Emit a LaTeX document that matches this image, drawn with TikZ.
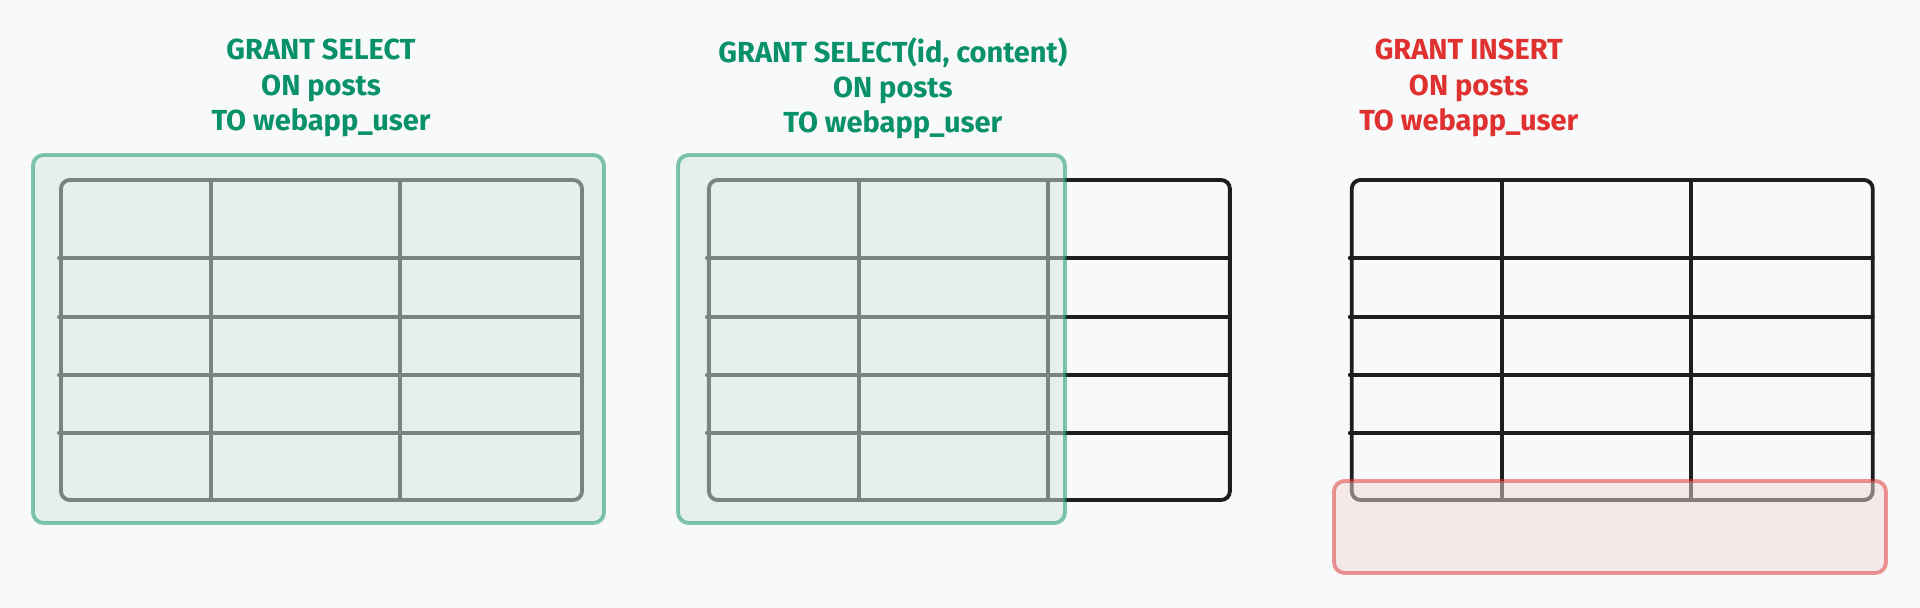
\documentclass[tikz,border=0pt]{standalone}
\usepackage{fontspec}
\setmainfont{Fira Sans}
\definecolor{grantgreen}{HTML}{099268}
\definecolor{denyred}{HTML}{E03131}
\definecolor{inkblack}{HTML}{1E1E1E}
\definecolor{paper}{HTML}{F8F9FA}
\definecolor{greenfill}{RGB}{212,233,226}
\definecolor{redfill}{RGB}{242,217,216}

\tikzstyle{every node}=[font=\fontsize{16.5}{20}\selectfont\bfseries]
\tikzstyle{title}=[align=center, inner sep=0pt]
\tikzstyle{grid line}=[line width=2.2pt, draw=inkblack, line cap=round]
\tikzstyle{allowed}=[draw=grantgreen, fill=greenfill, line width=2.2pt, opacity=0.5, rounded corners=6pt]
\tikzstyle{denied}=[draw=denyred, fill=redfill, line width=2.2pt, opacity=0.5, rounded corners=6pt]

\begin{document}
\begin{tikzpicture}[x=0.02cm, y=-0.02cm]
            \fill[paper] (0,0) rectangle (1920,608);
            \useasboundingbox (0,0) rectangle (1920,608);

            % 第一张表：全部列
            \begin{scope}[xshift=0cm]
                \draw[grid line, rounded corners=5pt] (61,180) rectangle (582,500);
                \foreach \y in {258,317,375,433} \draw[grid line] (59,\y) -- (582,\y);
                \foreach \x in {211,400} \draw[grid line] (\x,180) -- (\x,500);
                \node[title, text=grantgreen] (selall) at (321,88) {GRANT SELECT\\ON posts\\TO webapp\_user};
            \end{scope}

            % 第二张表：部分列
            \begin{scope}[xshift=12.96cm]
                \draw[grid line, rounded corners=5pt] (61,180) rectangle (582,500);
                \foreach \y in {258,317,375,433} \draw[grid line] (59,\y) -- (582,\y);
                \foreach \x in {211,400} \draw[grid line] (\x,180) -- (\x,500);
                \node[title, text=grantgreen] (selcols) at (245,88) {GRANT SELECT(id, content)\\ON posts\\TO webapp\_user};
            \end{scope}

            % 第三张表：插入新行
            \begin{scope}[xshift=25.82cm]
                \draw[grid line, rounded corners=5pt] (61,180) rectangle (582,500);
                \foreach \y in {258,317,375,433} \draw[grid line] (59,\y) -- (582,\y);
                \foreach \x in {211,400} \draw[grid line] (\x,180) -- (\x,500);
                \node[title, text=denyred] (insert) at (178,88) {GRANT INSERT\\ON posts\\TO webapp\_user};
            \end{scope}

            % 权限范围
            \draw[allowed] (33,155) rectangle (604,523);
            \draw[allowed] (678,155) rectangle (1065,523);
            \draw[denied] (1334,481) rectangle (1886,573);
        \end{tikzpicture}
\end{document}
